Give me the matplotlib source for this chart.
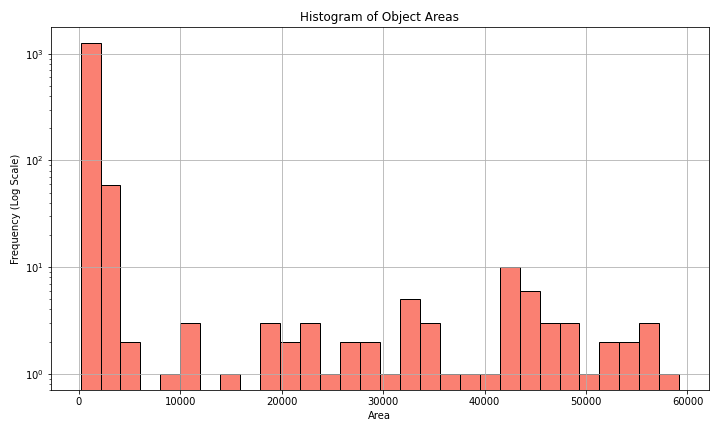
import numpy as np
import matplotlib.pyplot as plt

# Histogram counts (30 bins)
area_min = 190
area_max = 59190
counts = [1255, 59, 2, 0, 1, 3, 0, 1, 0, 3,
          2, 3, 1, 2, 2, 1, 5, 3, 1, 1,
          1, 10, 6, 3, 3, 1, 2, 2, 3, 1]

bin_edges = np.linspace(area_min, area_max, len(counts) + 1)
bin_centers = (bin_edges[:-1] + bin_edges[1:]) / 2

fig = plt.figure(figsize=(10, 6), dpi=72)
plt.hist(bin_centers, bins=bin_edges, weights=counts, color='salmon',
         edgecolor='black', log=True)
plt.title('Histogram of Object Areas')
plt.xlabel('Area')
plt.ylabel('Frequency (Log Scale)')
plt.grid(True)
plt.tight_layout()
plt.savefig('out.png')
